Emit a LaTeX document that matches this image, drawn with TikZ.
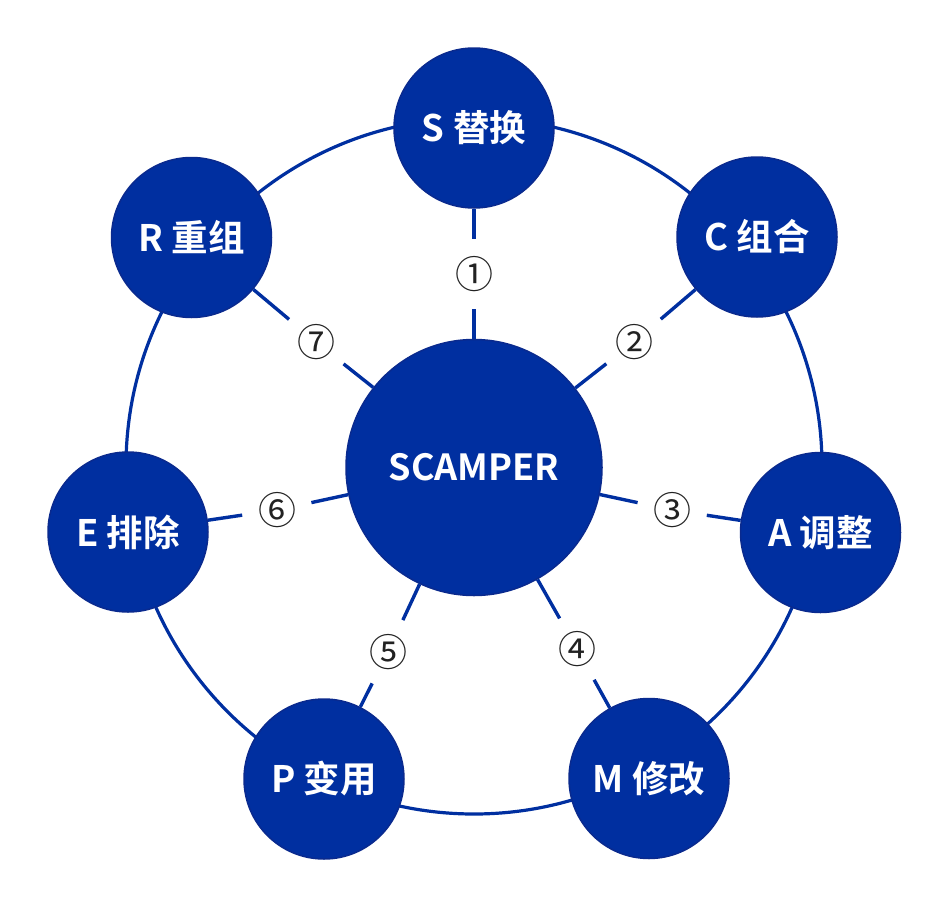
\documentclass[tikz,border=0pt]{standalone}
\usepackage{fontspec}
\setmainfont{Noto Sans CJK SC}[BoldFont={Noto Sans CJK SC Bold}]
\definecolor{sblue}{HTML}{002FA0}
\definecolor{sedge}{HTML}{0A2A8E}
\definecolor{numcol}{HTML}{222222}
\tikzset{
  ring/.style={draw=sblue, line width=3.2pt},
  spoke/.style={draw=sblue, line width=3.4pt},
  petal/.style={circle, fill=sblue, draw=sedge, line width=1.5pt, minimum size=160pt, inner sep=0pt,
    text=white, font=\fontsize{36.5}{42}\selectfont\bfseries},
  hub/.style={circle, fill=sblue, draw=sedge, line width=1.5pt, minimum size=256pt, inner sep=0pt,
    text=white, font=\fontsize{36}{42}\selectfont\bfseries},
  numlab/.style={circle, minimum size=70pt, inner sep=0pt, text=numcol, font=\fontsize{38}{42}\selectfont}
}
\begin{document}
\begin{tikzpicture}[x=1pt, y=-1pt]
\useasboundingbox (0,0) rectangle (948,908);
\coordinate (ringc) at (474,466);
\draw[ring] (ringc) circle[radius=348pt];

\node[numlab] (l1) at (474,274) {①};
\node[numlab] (l2) at (634,342) {②};
\node[numlab] (l3) at (672,510) {③};
\node[numlab] (l4) at (577,649) {④};
\node[numlab] (l5) at (388,652) {⑤};
\node[numlab] (l6) at (277,510) {⑥};
\node[numlab] (l7) at (316,342) {⑦};

\node[hub] (hub) at (474,467.5) {SCAMPER};
\node[petal] (S) at (474,128) {S 替换};
\node[petal] (C) at (757,237) {C 组合};
\node[petal] (A) at (820.5,532.5) {A 调整};
\node[petal] (M) at (649,778.5) {M 修改};
\node[petal] (P) at (324,779) {P 变用};
\node[petal] (E) at (128,532) {E 排除};
\node[petal] (R) at (191.5,237.5) {R 重组};

\draw[spoke] (hub) -- (l1); \draw[spoke] (l1) -- (S);
\draw[spoke] (hub) -- (l2); \draw[spoke] (l2) -- (C);
\draw[spoke] (hub) -- (l3); \draw[spoke] (l3) -- (A);
\draw[spoke] (hub) -- (l4); \draw[spoke] (l4) -- (M);
\draw[spoke] (hub) -- (l5); \draw[spoke] (l5) -- (P);
\draw[spoke] (hub) -- (l6); \draw[spoke] (l6) -- (E);
\draw[spoke] (hub) -- (l7); \draw[spoke] (l7) -- (R);
\end{tikzpicture}
\end{document}
